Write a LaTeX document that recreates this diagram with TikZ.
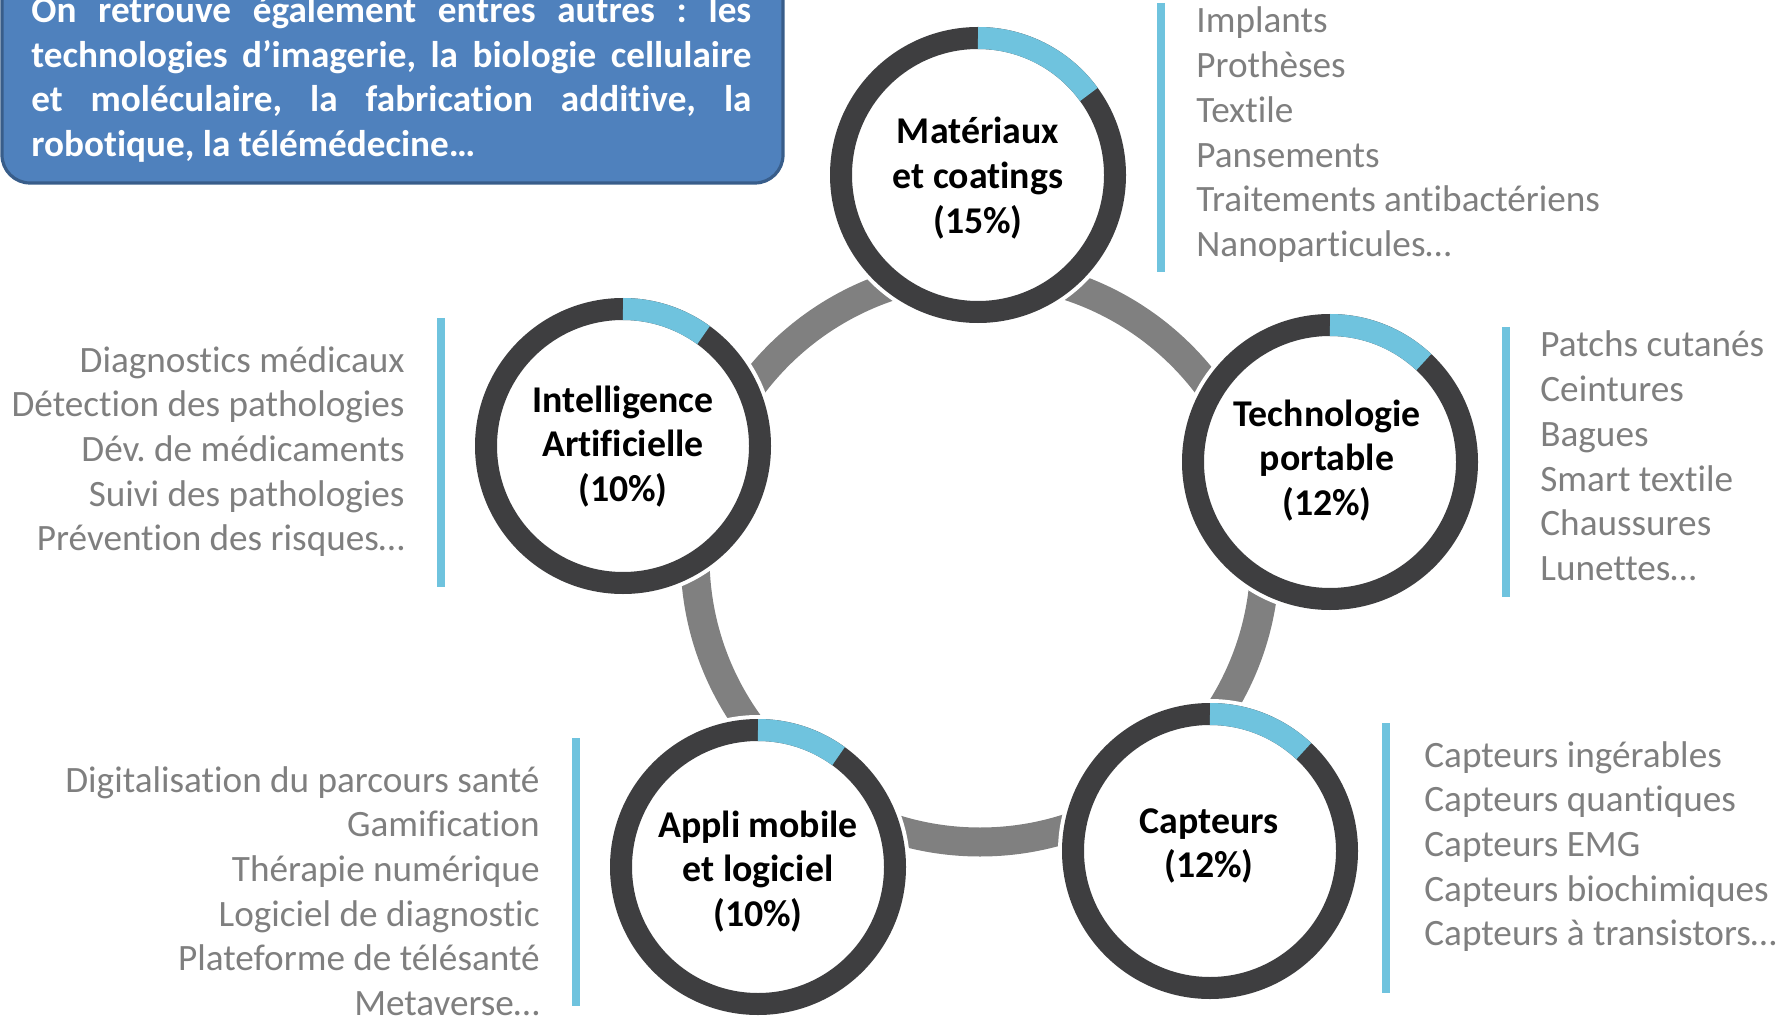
\documentclass[tikz,border=0pt]{standalone}
\usepackage{fontspec}
\setmainfont{Carlito}[Ligatures={NoCommon}]
\definecolor{ringdark}{RGB}{62,62,64}
\definecolor{hubgray}{RGB}{128,128,128}
\definecolor{accentblue}{RGB}{111,195,222}
\definecolor{listgray}{RGB}{127,127,127}
\definecolor{boxfill}{RGB}{79,129,189}
\definecolor{boxline}{RGB}{56,93,138}
\newcommand\myfs{\fontsize{18.6}{22.35}\selectfont\frenchspacing}
\newcommand\mybfs{\fontsize{18.9}{22.3}\selectfont\frenchspacing}
\begin{document}
\begin{tikzpicture}[x=0.5pt,y=0.5pt,
  ringnode/.style={circle, fill=white, draw=ringdark, line width=11pt,
    minimum size=137pt, inner sep=0pt, outer sep=0pt,
    preaction={draw=white, line width=15pt}},
  hubnode/.style={circle, draw=hubgray, line width=14.5pt, minimum size=285pt,
    inner sep=0pt},
  bluearc/.style={draw=accentblue, line width=11pt},
  bluebar/.style={draw=accentblue, line width=4pt},
  listtxt/.style={font=\myfs, text=listgray, inner sep=0pt},
  circtxt/.style={font=\mybfs\bfseries, text=black, inner sep=0pt, anchor=base},
  boxtxt/.style={font=\myfs\bfseries, text=white, inner sep=0pt}
]
\useasboundingbox (0,0) rectangle (1789,-1016);
\clip (0,0) rectangle (1789,-1016);

% central ring
\node[hubnode] (hub) at (980,-557) {};

% info box
\draw[fill=boxfill, draw=boxline, line width=1.6pt, rounded corners=14pt]
  (2,60) rectangle (783,-183);
\node[boxtxt, anchor=base west] (boxtext) at (31,-22.6) {\begin{tabular}[t]{@{}l@{}}
\makebox[360pt][s]{On retrouve également entres autres : les}\\
\makebox[360pt][s]{technologies d’imagerie, la biologie cellulaire}\\
\makebox[360pt][s]{et moléculaire, la fabrication additive, la}\\
robotique, la télémédecine…
\end{tabular}};

% circles
\node[ringnode] (mat) at (978,-175) {};
\node[ringnode] (ai) at (623,-446) {};
\node[ringnode] (tech) at (1330,-462) {};
\node[ringnode] (app) at (758,-867) {};
\node[ringnode] (cap) at (1210,-851) {};

% blue shares
\draw[bluearc] ([shift={(90:68.5pt)}]mat.center) arc[start angle=90, end angle=36, radius=68.5pt];
\draw[bluearc] ([shift={(90:68.5pt)}]ai.center) arc[start angle=90, end angle=54, radius=68.5pt];
\draw[bluearc] ([shift={(90:68.5pt)}]tech.center) arc[start angle=90, end angle=46.8, radius=68.5pt];
\draw[bluearc] ([shift={(90:68.5pt)}]app.center) arc[start angle=90, end angle=54, radius=68.5pt];
\draw[bluearc] ([shift={(90:68.5pt)}]cap.center) arc[start angle=90, end angle=46.8, radius=68.5pt];

% circle labels
\node[circtxt] (matT) at (978,-144) {\begin{tabular}[t]{@{}c@{}}Matériaux\\et coatings\\(15\%)\end{tabular}};
\node[circtxt] (aiT) at (623,-412) {\begin{tabular}[t]{@{}c@{}}Intelligence\\Artificielle\\(10\%)\end{tabular}};
\node[circtxt] (techT) at (1327,-426) {\begin{tabular}[t]{@{}c@{}}Technologie\\portable\\(12\%)\end{tabular}};
\node[circtxt] (appT) at (758,-837) {\begin{tabular}[t]{@{}c@{}}Appli mobile\\et logiciel\\(10\%)\end{tabular}};
\node[circtxt] (capT) at (1209,-833) {\begin{tabular}[t]{@{}c@{}}Capteurs\\(12\%)\end{tabular}};

% side bars
\draw[bluebar] (1161,-3) -- (1161,-272);
\draw[bluebar] (1506,-327) -- (1506,-597);
\draw[bluebar] (1386,-723) -- (1386,-993);
\draw[bluebar] (576,-738) -- (576,-1006);
\draw[bluebar] (441,-318) -- (441,-587);

% lists
\node[listtxt, anchor=base west] (matL) at (1196,-33) {\begin{tabular}[t]{@{}l@{}}
Implants\\Prothèses\\Textile\\Pansements\\Traitements antibactériens\\Nanoparticules…\end{tabular}};
\node[listtxt, anchor=base west] (techL) at (1540,-357) {\begin{tabular}[t]{@{}l@{}}
Patchs cutanés\\Ceintures\\Bagues\\Smart textile\\Chaussures\\Lunettes…\end{tabular}};
\node[listtxt, anchor=base west] (capL) at (1424,-767) {\begin{tabular}[t]{@{}l@{}}
Capteurs ingérables\\Capteurs quantiques\\Capteurs EMG\\Capteurs biochimiques\\Capteurs à transistors…\end{tabular}};
\node[listtxt, anchor=base east] (appL) at (540,-792) {\begin{tabular}[t]{@{}r@{}}
Digitalisation du parcours santé\\Gamification\\Thérapie numérique\\Logiciel de diagnostic\\Plateforme de télésanté\\Metaverse…\end{tabular}};
\node[listtxt, anchor=base east] (aiL) at (405,-372) {\begin{tabular}[t]{@{}r@{}}
Diagnostics médicaux\\Détection des pathologies\\Dév. de médicaments\\Suivi des pathologies\\Prévention des risques…\end{tabular}};
\end{tikzpicture}
\end{document}
